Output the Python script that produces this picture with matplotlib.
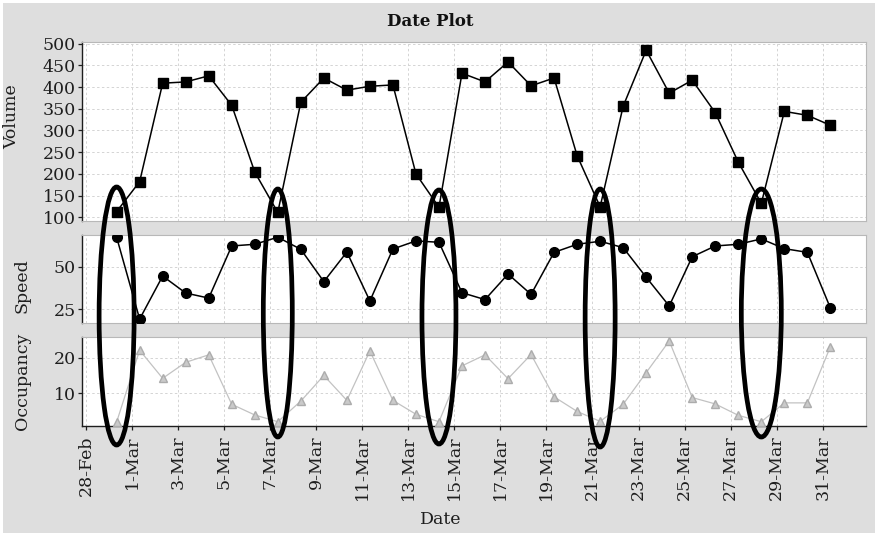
import datetime as dt

import matplotlib
matplotlib.use("Agg")
import matplotlib.pyplot as plt
import matplotlib.dates as mdates
import matplotlib.transforms as mtransforms
from matplotlib.patches import Ellipse, Rectangle
import pandas as pd

# ---------------------------------------------------------------- data
dates = pd.date_range("2008-02-29 08:00", periods=32, freq="D")

volume = [113, 182, 409, 412, 426, 358, 204, 111, 365, 421, 393, 402, 405, 200,
          123, 432, 412, 458, 403, 421, 242, 124, 356, 485, 386, 416, 341, 227,
          132, 344, 335, 312]

speed = [67.7, 19.0, 44.6, 34.5, 31.5, 62.5, 63.5, 67.7, 60.5, 41.3, 58.9, 29.8,
         60.7, 65.5, 64.7, 34.7, 30.6, 45.8, 33.7, 58.7, 63.5, 65.3, 61.5, 43.9,
         26.8, 56.1, 62.5, 63.5, 66.7, 60.9, 58.7, 25.6]

occupancy = [1.9, 22.1, 14.2, 18.7, 20.8, 6.9, 3.9, 2.0, 7.8, 15.0, 8.0, 21.9,
             8.0, 4.1, 2.0, 17.7, 20.8, 14.1, 20.9, 9.0, 4.9, 2.1, 6.9, 15.8,
             24.7, 8.8, 7.0, 3.8, 2.0, 7.3, 7.3, 23.1]

volume_ticks = [100, 150, 200, 250, 300, 350, 400, 450, 500]
speed_ticks = [25, 50]
occupancy_ticks = [10, 20]
date_ticks = pd.date_range("2008-02-28", "2008-03-31", freq="2D")

# days picked out with ellipses (index into dates)
highlight_idx = [0, 7, 14, 21, 28]

# ---------------------------------------------------------------- style
W, H = 878, 536
BG = "#dedede"
GRID = "#d4d4d4"
INK = "#1e1e1e"
plt.rcParams["font.family"] = ["DejaVu Serif", "DejaVu Sans"]

fig = plt.figure(figsize=(W / 100, H / 100), dpi=100, facecolor="white")
fig.add_artist(Rectangle((3 / W, 3 / H), (W - 6) / W, (H - 6) / H,
                         transform=fig.transFigure, facecolor=BG,
                         edgecolor="none", zorder=-10))


def rect(l, t, r, b):
    return [l / W, 1 - b / H, (r - l) / W, (b - t) / H]


ax_v = fig.add_axes(rect(82, 42, 866, 220.7))
ax_s = fig.add_axes(rect(82, 234.7, 866, 323.3), sharex=ax_v)
ax_o = fig.add_axes(rect(82, 336.7, 866, 426), sharex=ax_v)

x0 = dt.datetime(2008, 2, 28)
xlim = (x0 - dt.timedelta(days=0.17), x0 + dt.timedelta(days=33.88))

panels = [
    (ax_v, volume, volume_ticks, (92, 504), "Volume",
     dict(color="black", marker="s", markersize=6.5, lw=1.1), 20.5, 117),
    (ax_s, speed, speed_ticks, (16.5, 69.2), "Speed",
     dict(color="black", marker="o", markersize=7, lw=1.1), 31, 286),
    (ax_o, occupancy, occupancy_ticks, (0.8, 25.9), "Occupancy",
     dict(color="#c2c2c2", marker="^", markersize=5.5, lw=0.9,
          markerfacecolor="#cacaca", markeredgecolor="#acacac"), 31.5, 381),
]

for ax, vals, yt, yl, label, style, lx, ly in panels:
    ax.set_facecolor("white")
    ax.plot(dates, vals, zorder=3, **style)
    ax.set_ylim(*yl)
    ax.set_yticks(yt)
    ax.set_xlim(*xlim)
    ax.set_xticks(date_ticks)
    ax.grid(True, color=GRID, lw=0.7, ls=(0, (2.5, 2.5)))
    ax.set_axisbelow(True)
    for side in ("top", "right", "bottom"):
        ax.spines[side].set_color("#b8b8b8")
        ax.spines[side].set_linewidth(0.8)
    ax.spines["left"].set_color(INK)
    ax.spines["left"].set_linewidth(1.0)
    ax.tick_params(axis="y", direction="out", length=3, width=0.9,
                   pad=1.5, labelsize=12.5, colors=INK)
    ax.set_ylabel(label, fontsize=12.5, color=INK)
    # fixed pixel position for the axis label
    px = fig.transFigure.inverted().transform((lx, H - ly))
    ax.yaxis.set_label_coords(px[0], px[1], transform=fig.transFigure)

for ax in (ax_v, ax_s):
    ax.tick_params(axis="x", length=0, labelbottom=False)


def day_month(value, _pos):
    d = mdates.num2date(value)
    return f"{d.day}-{d.strftime('%b')}"


ax_o.spines["bottom"].set_color(INK)
ax_o.spines["bottom"].set_linewidth(1.0)
ax_o.tick_params(axis="x", direction="out", length=3, width=0.9, pad=4,
                 labelsize=12.5, colors=INK, labelrotation=90)
ax_o.xaxis.set_major_formatter(plt.FuncFormatter(day_month))

fig.text(0.49, 1 - 22 / H, "Date Plot", ha="center", va="center",
         fontsize=12, fontweight="bold", color="#111111")
fig.text(441 / W, 1 - 520 / H, "Date", ha="center", va="center",
         fontsize=12.5, color=INK)

# ellipses marking the low-volume days
ell_width_px = [35, 29, 34, 30, 40]
ell_top_px = [187, 189, 190, 189, 189]
ell_bottom_px = [445, 437, 444, 447, 437]
px_per_day = 784 / (xlim[1] - xlim[0]).total_seconds() * 86400
blend = mtransforms.blended_transform_factory(ax_o.transData, fig.transFigure)
for i, wpx, tp, bp in zip(highlight_idx, ell_width_px, ell_top_px, ell_bottom_px):
    cx = mdates.date2num(dates[i])
    cy = 1 - (tp + bp) / 2 / H
    fig.add_artist(Ellipse((cx, cy), width=wpx / px_per_day,
                           height=(bp - tp) / H, transform=blend, fill=False,
                           edgecolor="black", lw=3.4, zorder=20, clip_on=False))

fig.savefig("out.png", dpi=100, facecolor=fig.get_facecolor())
